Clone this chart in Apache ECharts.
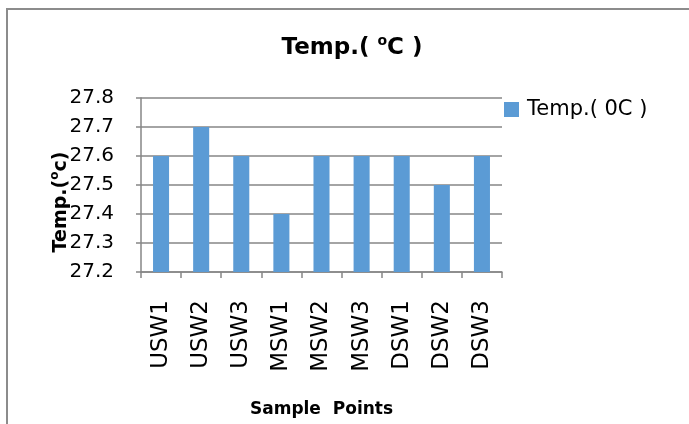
<!DOCTYPE html>
<html>
<head>
<meta charset="utf-8">
<script src="https://cdn.jsdelivr.net/npm/echarts@6/dist/echarts.min.js"></script>
<style>
  html, body { margin: 0; padding: 0; background: #fff; }
  #chart { width: 689px; height: 424px; }
</style>
</head>
<body>
<div id="chart"></div>
<script>
// Sample sites along the stream and their water temperatures
const categories = ['USW1', 'USW2', 'USW3', 'MSW1', 'MSW2', 'MSW3', 'DSW1', 'DSW2', 'DSW3'];
const tempValues = [27.6, 27.7, 27.6, 27.4, 27.6, 27.6, 27.6, 27.5, 27.6];
const seriesName = 'Temp.( 0C )';

const FONT = '"DejaVu Sans", sans-serif';
const chart = echarts.init(document.getElementById('chart'));

chart.setOption({
  animation: false,
  backgroundColor: '#fff',
  textStyle: { fontFamily: FONT },
  graphic: [
    {
      type: 'rect',
      shape: { x: 7, y: 9, width: 720, height: 440 },
      style: { fill: 'none', stroke: '#8c8c8c', lineWidth: 2 },
      silent: true
    }
  ],
  title: {
    text: '{b|Temp.( }{s|o}{b|C )}',
    left: 347,
    textAlign: 'center',
    top: 29,
    textStyle: {
      rich: {
        b: { fontFamily: FONT, fontSize: 23, lineHeight: 29, fontWeight: 'bold', color: '#000' },
        s: { fontFamily: FONT, fontSize: 14, lineHeight: 14, fontWeight: 'bold', color: '#000', verticalAlign: 'top' }
      }
    }
  },
  legend: {
    left: 499,
    top: 94,
    icon: 'rect',
    itemWidth: 15,
    itemHeight: 15,
    itemGap: 7,
    textStyle: { fontFamily: FONT, fontSize: 21, color: '#000', padding: [0, 0, 0, 3] },
    data: [seriesName]
  },
  grid: { left: 141, top: 98, right: 187, bottom: 152, containLabel: false },
  xAxis: {
    type: 'category',
    data: categories,
    name: 'Sample  Points',
    nameLocation: 'middle',
    nameGap: 129,
    nameMoveOverlap: false,
    nameTextStyle: { fontFamily: FONT, fontSize: 17, fontWeight: 'bold', color: '#000' },
    axisLine: { lineStyle: { color: '#868686', width: 1.5 } },
    axisTick: { show: true, alignWithLabel: false, length: 6, lineStyle: { color: '#868686', width: 1.5 } },
    axisLabel: { rotate: 90, margin: 28, fontFamily: FONT, fontSize: 23, color: '#000', interval: 0 }
  },
  yAxis: {
    type: 'value',
    min: 27.2,
    max: 27.8,
    interval: 0.1,
    name: '{b|Temp.(}{s|o}{b|c)}',
    nameLocation: 'middle',
    nameGap: 68,
    nameMoveOverlap: false,
    nameTextStyle: {
      padding: [0, 34, 0, 0],
      rich: {
        b: { fontFamily: FONT, fontSize: 19, lineHeight: 24, fontWeight: 'bold', color: '#000' },
        s: { fontFamily: FONT, fontSize: 12, lineHeight: 12, fontWeight: 'bold', color: '#000', verticalAlign: 'top' }
      }
    },
    axisLine: { show: true, lineStyle: { color: '#868686', width: 1.5 } },
    axisTick: { show: true, length: 5, lineStyle: { color: '#868686', width: 1.5 } },
    splitLine: { show: true, lineStyle: { color: '#868686', width: 1.5 } },
    axisLabel: {
      margin: 27,
      fontFamily: FONT,
      fontSize: 20,
      color: '#000',
      formatter: v => v.toFixed(1)
    }
  },
  series: [
    {
      name: seriesName,
      type: 'bar',
      data: tempValues,
      barCategoryGap: '60%',
      itemStyle: { color: '#5B9BD5' }
    }
  ]
});
</script>
</body>
</html>
